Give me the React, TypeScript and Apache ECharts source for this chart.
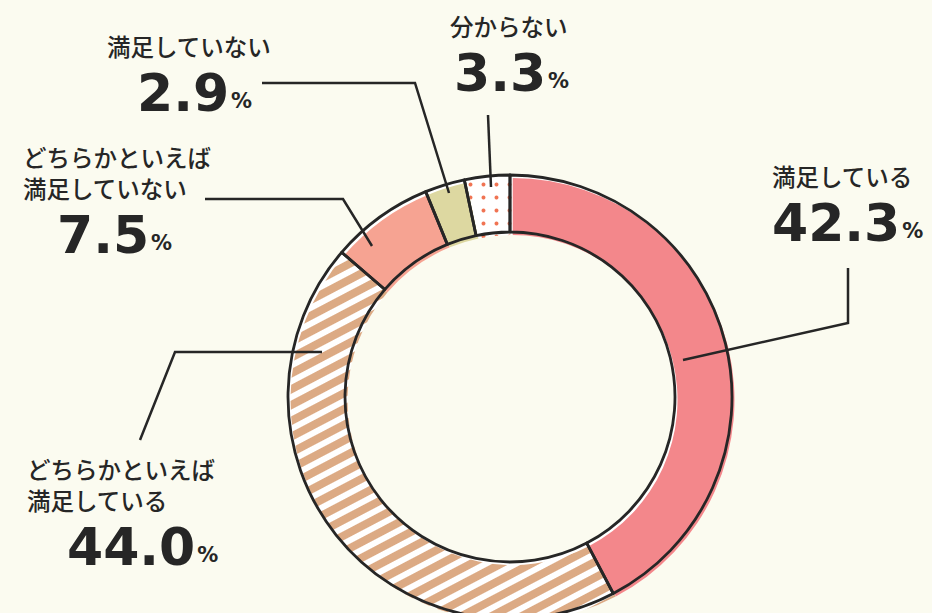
import React, { useEffect, useRef } from 'react';
import * as echarts from 'echarts';

// ---- data ----
const categories = [
  '満足している',
  'どちらかといえば満足している',
  'どちらかといえば満足していない',
  '満足していない',
  '分からない',
];
const nameLines = [
  ['満足している'],
  ['どちらかといえば', '満足している'],
  ['どちらかといえば', '満足していない'],
  ['満足していない'],
  ['分からない'],
];
const values = [42.3, 44.0, 7.5, 2.9, 3.3];

// ---- layout / style (not data) ----
const labelBoxes = [
  [772, 160],
  [27, 453],
  [23, 141],
  [107, 30],
  [450, 10],
];
const numIndent = [0, 40, 34, 30, 4];
const leaders = [
  [[683, 360], [848, 323], [848, 268]],
  [[322, 352], [175, 352], [140, 440]],
  [[372, 246], [343, 199], [205, 199]],
  [[449, 193], [415, 83], [262, 83]],
  [[491, 187], [488, 115]],
];
const BG = '#fbfbf0';
const INK = '#262626';
const CENTER = [510, 397];
const FILL_CENTER = [512.5, 400];
const R_PX = [165, 222];

const fillStyles: any[] = [
  { color: '#f3878b' },
  {
    color: '#ffffff',
    decal: {
      symbol: 'rect',
      symbolSize: 1,
      color: '#dcaa84',
      dashArrayX: [1, 0],
      dashArrayY: [8, 6],
      rotation: -Math.PI / 6.5,
    },
  },
  { color: '#f6a392' },
  { color: '#ddd8a1' },
  {
    color: '#ffffff',
    decal: {
      symbol: 'circle',
      symbolSize: 0.8,
      color: '#f07352',
      dashArrayX: [5, 8],
      dashArrayY: [5, 8],
      rotation: 0,
    },
  },
];

export default function App() {
  const ref = useRef<HTMLDivElement>(null);
  useEffect(() => {
    document.body.style.margin = '0';
    document.body.style.background = BG;
    const chart = echarts.init(ref.current!, null, { renderer: 'svg' });
    const radius = [R_PX[0], R_PX[1]];
    const base = categories.map((c, i) => ({ name: c, value: values[i] }));
    const common = {
      type: 'pie',
      radius,
      startAngle: 90,
      clockwise: true,
      silent: true,
      avoidLabelOverlap: false,
      emphasis: { disabled: true },
    };
    chart.setOption({
      animation: false,
      backgroundColor: BG,
      series: [
        {
          ...common,
          center: CENTER,
          label: { show: false },
          labelLine: { show: false },
          itemStyle: { color: '#ffffff', borderWidth: 0 },
          data: base,
          z: 1,
        },
        {
          ...common,
          center: FILL_CENTER,
          label: { show: false },
          labelLine: { show: false },
          data: base.map((d, i) => ({ ...d, itemStyle: { ...fillStyles[i], borderWidth: 0 } })),
          z: 2,
        },
        {
          ...common,
          center: CENTER,
          z: 3,
          itemStyle: { color: 'rgba(0,0,0,0)', borderColor: INK, borderWidth: 2.8 },
          label: {
            show: true,
            position: 'outside',
            color: INK,
            formatter: (p: any) => {
              const i = p.dataIndex;
              const lines = nameLines[i].map((s) => `{a|${s}}`);
              return [...lines, `{n${i}|${values[i].toFixed(1)}}{p|%}`].join('\n');
            },
            rich: {
              a: {
                fontFamily: '"Noto Sans CJK JP", sans-serif',
                fontWeight: 500,
                fontSize: 23.5,
                lineHeight: 31,
                color: INK,
              },
              ...Object.fromEntries(
                values.map((_, i) => [
                  `n${i}`,
                  {
                    fontFamily: '"DejaVu Sans", sans-serif',
                    fontWeight: 'bold',
                    fontSize: 52,
                    lineHeight: 58,
                    color: INK,
                    padding: [0, 2, 0, numIndent[i]],
                    verticalAlign: 'bottom',
                  },
                ])
              ),
              p: {
                fontFamily: '"DejaVu Sans", sans-serif',
                fontWeight: 'bold',
                fontSize: 21,
                lineHeight: 58,
                color: INK,
                verticalAlign: 'bottom',
                padding: [0, 0, 8, 0],
              },
            },
          },
          labelLine: {
            show: true,
            length: 10,
            length2: 10,
            lineStyle: { color: INK, width: 2.5 },
          },
          labelLayout: (params: any) => {
            const i = params.dataIndex;
            return {
              x: labelBoxes[i][0],
              y: labelBoxes[i][1],
              align: 'left',
              verticalAlign: 'top',
              labelLinePoints: leaders[i],
            };
          },
          data: base,
        },
      ],
    });
    return () => chart.dispose();
  }, []);
  return <div ref={ref} style={{ width: 932, height: 613 }} />;
}
